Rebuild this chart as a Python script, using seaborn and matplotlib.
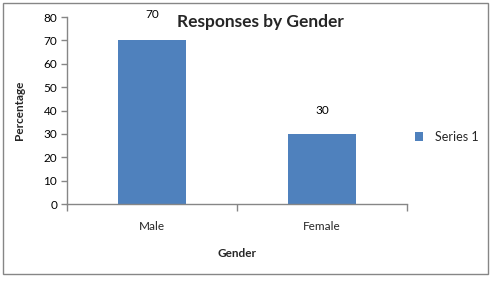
import matplotlib
matplotlib.use("Agg")
import matplotlib.pyplot as plt
import seaborn as sns
from matplotlib.patches import Rectangle

# chart data
categories = ["Male", "Female"]
percentages = [70, 30]
series_name = "Series 1"
y_ticks = [0, 10, 20, 30, 40, 50, 60, 70, 80]

bar_color = "#4F81BD"
axis_color = "#868686"

sns.set_style("white")
plt.rcParams["font.family"] = ["Lato", "DejaVu Sans"]

fig = plt.figure(figsize=(4.91, 2.81), dpi=100)
ax = fig.add_axes([0.1365, 0.274, 0.692, 0.6655])

sns.barplot(x=categories, y=percentages, color=bar_color, width=0.4,
            saturation=1, label=series_name, linewidth=0, ax=ax)

# data labels (Excel put them at uneven heights)
label_offsets = [18.5, 16.5]
for i, (v, off) in enumerate(zip(percentages, label_offsets)):
    ax.annotate(str(v), (i, v), xytext=(0, off), textcoords="offset points",
                ha="center", va="center", fontsize=8.5, color="black")

ax.set_ylim(0, 80)
ax.set_xlim(-0.5, 1.5)
ax.set_yticks(y_ticks)
ax.tick_params(axis="y", length=4, width=1, color=axis_color, labelsize=8.5,
               labelcolor="black", pad=3, direction="out", left=True)
ax.set_xticks([-0.5, 0.5, 1.5], minor=True)
ax.tick_params(axis="x", which="major", length=0, labelsize=8.5, pad=12)
ax.tick_params(axis="x", which="minor", length=5, width=1, color=axis_color,
               direction="out", bottom=True)

for s in ["top", "right"]:
    ax.spines[s].set_visible(False)
for s in ["left", "bottom"]:
    ax.spines[s].set_color(axis_color)
    ax.spines[s].set_linewidth(1)

ax.set_xlabel("Gender", fontsize=8.5, fontweight="bold", labelpad=12)
ax.set_ylabel("Percentage", fontsize=8.5, fontweight="bold", labelpad=13)

fig.text(0.53, 0.922, "Responses by Gender", ha="center", va="center",
         fontsize=12.5, fontweight="bold")

ax.legend(loc="center left", bbox_to_anchor=(0.99, 0.36), frameon=False,
          fontsize=9, handlelength=0.7, handleheight=0.7, handletextpad=0.9)

# outer chart border
fig.patches.append(Rectangle((0.007, 0.025), 0.987, 0.965, transform=fig.transFigure,
                             fill=False, edgecolor=axis_color, linewidth=1))

fig.savefig("out.png", dpi=100)
